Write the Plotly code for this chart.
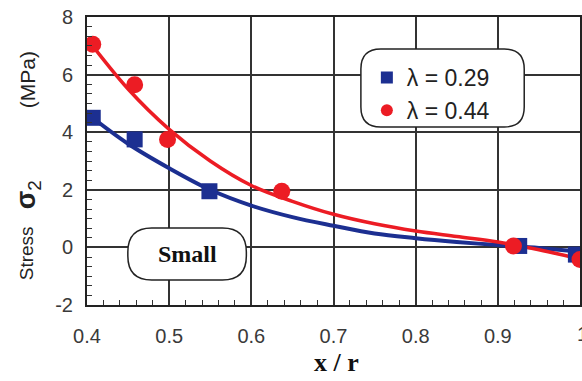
import plotly.graph_objects as go

# measured points
blue_x = [0.407, 0.458, 0.549, 0.926, 0.995]
blue_y = [4.5, 3.75, 1.95, 0.05, -0.25]
red_x = [0.407, 0.458, 0.498, 0.637, 0.919, 1.0]
red_y = [7.05, 5.65, 3.75, 1.95, 0.05, -0.42]

# fitted curves
curve_x = [0.40, 0.45, 0.50, 0.55, 0.60, 0.65, 0.70, 0.75, 0.80, 0.85, 0.90, 0.95, 1.00]
blue_curve = [4.65, 3.6, 2.75, 2.0, 1.45, 1.05, 0.75, 0.48, 0.32, 0.19, 0.08, -0.02, -0.15]
red_curve = [7.25, 5.5, 4.1, 3.0, 2.15, 1.6, 1.15, 0.82, 0.57, 0.38, 0.19, -0.08, -0.4]

x_ticks = [0.4, 0.5, 0.6, 0.7, 0.8, 0.9]
x_tick_labels = ["0.4", "0.5", "0.6", "0.7", "0.8", "0.9"]
y_ticks = [-2, 0, 2, 4, 6, 8]
y_tick_labels = ["-2", "0", "2", "4", "6", "8"]

BLUE = "#1c2f91"
RED = "#ec1c24"
TICKFONT = dict(family="Liberation Sans, Arial", size=20, color="#3a3a3a")

fig = go.Figure()
fig.add_trace(go.Scatter(x=curve_x, y=blue_curve, mode="lines", line=dict(color=BLUE, width=4, shape="spline"),
                         showlegend=False, hoverinfo="skip"))
fig.add_trace(go.Scatter(x=curve_x, y=red_curve, mode="lines", line=dict(color=RED, width=3.5, shape="spline"),
                         showlegend=False, hoverinfo="skip"))
fig.add_trace(go.Scatter(x=blue_x, y=blue_y, mode="markers", name="λ = 0.29",
                         marker=dict(symbol="square", size=16, color=BLUE)))
fig.add_trace(go.Scatter(x=red_x, y=red_y, mode="markers", name="λ = 0.44",
                         marker=dict(symbol="circle", size=17, color=RED)))

axis_common = dict(showline=True, mirror=True, linecolor="#222", linewidth=2,
                   showgrid=True, gridcolor="#333", gridwidth=1.5, zeroline=False,
                   ticks="inside", ticklen=6, tickcolor="#333", tickfont=TICKFONT)

fig.update_xaxes(range=[0.4, 1.0], tickvals=x_ticks, ticktext=x_tick_labels, ticklabelstandoff=12,
                 minor=dict(dtick=0.02, tick0=0.4, ticks="inside", ticklen=5, tickcolor="#333", showgrid=False),
                 **axis_common)
fig.update_yaxes(range=[-2, 8], tickvals=y_ticks, ticktext=y_tick_labels, ticklabelstandoff=8,
                 minor=dict(dtick=1/3, tick0=0, ticks="inside", ticklen=5, tickcolor="#333", showgrid=False),
                 **axis_common)

def rounded(x0, y0, x1, y1, rx, ry):
    return (f"M {x0+rx},{y0} L {x1-rx},{y0} Q {x1},{y0} {x1},{y0+ry} L {x1},{y1-ry} "
            f"Q {x1},{y1} {x1-rx},{y1} L {x0+rx},{y1} Q {x0},{y1} {x0},{y1-ry} "
            f"L {x0},{y0+ry} Q {x0},{y0} {x0+rx},{y0} Z")

# pixel -> paper helpers
L, R, T, B = 87, 582, 17, 305
def px(v):
    return (v - L) / (R - L)
def py(v):
    return (B - v) / (B - T)

fig.add_shape(type="path", xref="paper", yref="paper",
              path=rounded(px(362), py(127), px(526), py(49), 20/(R-L), 20/(B-T)),
              line=dict(color="#222", width=1.5), fillcolor="white", layer="above")
fig.add_shape(type="path", xref="paper", yref="paper",
              path=rounded(px(128), py(280), px(247), py(228), 24/(R-L), 24/(B-T)),
              line=dict(color="#222", width=1.5), fillcolor="white", layer="above")

ann = dict(xref="paper", yref="paper", showarrow=False, xanchor="center", yanchor="middle")
fig.add_annotation(x=px(188), y=py(254), text="<b>Small</b>",
                   font=dict(family="Liberation Serif, Times New Roman", size=24, color="#111"), **ann)

# tick label "1" at the clipped right edge
fig.add_annotation(x=px(585), y=py(334), text="1", font=TICKFONT, **ann)

# y-axis title pieces
fig.add_annotation(x=px(26), y=py(253), textangle=-90, text="Stress",
                   font=dict(family="Liberation Sans, Arial", size=19, color="#222"), **ann)
fig.add_annotation(x=px(28), y=py(195), textangle=-90, text="<b>σ</b><sub>2</sub>",
                   font=dict(family="Liberation Sans, Arial", size=27, color="#222"), **ann)
fig.add_annotation(x=px(27), y=py(80), textangle=-90, text="(MPa)",
                   font=dict(family="Liberation Sans, Arial", size=21, color="#222"), **ann)
fig.add_annotation(x=px(338), y=py(362), text="<b>x / r</b>",
                   font=dict(family="Liberation Serif, Times New Roman", size=26, color="#111"), **ann)

fig.update_layout(width=582, height=381, margin=dict(l=87, r=0, t=17, b=76),
                  plot_bgcolor="white", paper_bgcolor="white",
                  legend=dict(x=px(368), y=py(56), xanchor="left", yanchor="top",
                              bgcolor="rgba(0,0,0,0)", borderwidth=0,
                              font=dict(family="Liberation Sans, Arial", size=23, color="#222"),
                              itemsizing="constant", tracegroupgap=4))

fig.write_html("out.html")
